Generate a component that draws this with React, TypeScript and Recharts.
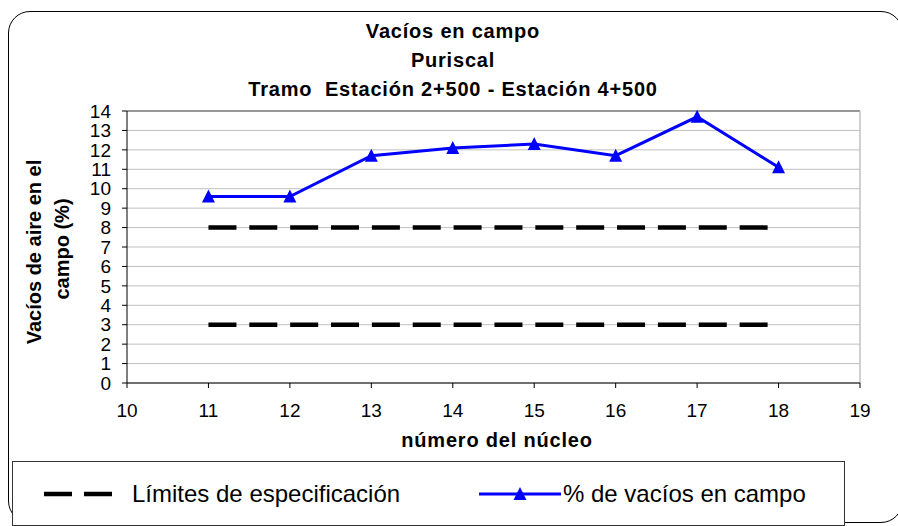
import { LineChart, Line, XAxis, YAxis, CartesianGrid, ReferenceLine } from 'recharts';

// núcleos y % de vacíos medidos
const nucleos = [11, 12, 13, 14, 15, 16, 17, 18];
const vacios = [9.6, 9.6, 11.7, 12.1, 12.3, 11.7, 13.7, 11.1];

// límites de especificación
const limiteX = [11, 18];
const limiteSuperior = [8, 8];
const limiteInferior = [3, 3];

const xTicks = [10, 11, 12, 13, 14, 15, 16, 17, 18, 19];
const yTicks = [0, 1, 2, 3, 4, 5, 6, 7, 8, 9, 10, 11, 12, 13, 14];

const titulo = ['Vacíos en campo', 'Puriscal', 'Tramo  Estación 2+500 - Estación 4+500'];

const serieVacios = nucleos.map((x, i) => ({ x, y: vacios[i] }));
const serieSup = limiteX.map((x, i) => ({ x, y: limiteSuperior[i] }));
const serieInf = limiteX.map((x, i) => ({ x, y: limiteInferior[i] }));

const FONT = '"Liberation Sans", Arial, sans-serif';
const BLUE = '#0000ff';
const DASH = '28 12.86';

function Triangle(props: any) {
  const { cx, cy } = props;
  if (cx == null || cy == null) return null;
  return (
    <polygon
      key={`tri-${cx}`}
      points={`${cx},${cy - 7} ${cx + 6.5},${cy + 6} ${cx - 6.5},${cy + 6}`}
      fill={BLUE}
    />
  );
}

export default function App() {
  return (
    <div style={{ position: 'absolute', left: 0, top: 0, width: 898, height: 526, overflow: 'hidden', background: '#fff' }}>
      <div
        style={{
          position: 'absolute', left: 8, top: 11, width: 895, height: 512,
          border: '1px solid #000', borderRadius: 22, boxSizing: 'border-box',
        }}
      />
      <div style={{ position: 'absolute', left: 0, top: 0 }}>
        <LineChart width={898} height={526} margin={{ top: 111, left: 67, right: 38, bottom: 113 }}>
          <CartesianGrid horizontal vertical={false} stroke="#c0c0c0" strokeWidth={1} />
          <XAxis
            type="number"
            dataKey="x"
            domain={[10, 19]}
            ticks={xTicks}
            allowDataOverflow
            stroke="#000"
            tickSize={5}
            tickMargin={16}
            tick={{ fill: '#000', fontSize: 19, fontFamily: FONT }}
            height={30}
          />
          <YAxis
            type="number"
            dataKey="y"
            domain={[0, 14]}
            ticks={yTicks}
            interval={0}
            stroke="#000"
            tickSize={5}
            tickMargin={11}
            tick={{ fill: '#000', fontSize: 19, fontFamily: FONT }}
            width={60}
          />
          <ReferenceLine y={14} stroke="#808080" strokeWidth={1.5} />
          <ReferenceLine x={19} stroke="#c0c0c0" strokeWidth={1.5} />
          <Line
            data={serieSup}
            dataKey="y"
            stroke="#000"
            strokeWidth={4.5}
            strokeDasharray={DASH}
            dot={false}
            isAnimationActive={false}
          />
          <Line
            data={serieInf}
            dataKey="y"
            stroke="#000"
            strokeWidth={4.5}
            strokeDasharray={DASH}
            dot={false}
            isAnimationActive={false}
          />
          <Line
            data={serieVacios}
            dataKey="y"
            stroke={BLUE}
            strokeWidth={3}
            dot={<Triangle />}
            isAnimationActive={false}
          />
        </LineChart>
      </div>
      <svg width={898} height={526} style={{ position: 'absolute', left: 0, top: 0, pointerEvents: 'none' }}>
        <g fontFamily={FONT} fontWeight="bold" fontSize={20} fill="#000">
          {titulo.map((t, i) => (
            <text key={t} x={453} y={38 + i * 29} textAnchor="middle" letterSpacing={0.8} xmlSpace="preserve">{t}</text>
          ))}
          <text x={497} y={447} textAnchor="middle" letterSpacing={0.8}>número del núcleo</text>
          <text transform="translate(41,252) rotate(-90)" textAnchor="middle">Vacíos de aire en el</text>
          <text transform="translate(69,249) rotate(-90)" textAnchor="middle">campo (%)</text>
        </g>
      </svg>
      <div
        style={{
          position: 'absolute', left: 12, top: 461, width: 833, height: 65,
          border: '1px solid #333', boxSizing: 'border-box', background: '#fff',
        }}
      >
        <svg width={833} height={64} style={{ position: 'absolute', left: -12, top: 0 }}>
          <line x1={43} x2={111} y1={32} y2={32} stroke="#000" strokeWidth={4.5} strokeDasharray="28 12" />
          <line x1={478} x2={560} y1={32} y2={32} stroke={BLUE} strokeWidth={3} />
          <polygon points="519,25 525.5,38 512.5,38" fill={BLUE} />
          <g fontFamily={FONT} fontSize={24} fill="#000">
            <text x={131} y={40}>Límites de especificación</text>
            <text x={562} y={40}>% de vacíos en campo</text>
          </g>
        </svg>
      </div>
    </div>
  );
}
